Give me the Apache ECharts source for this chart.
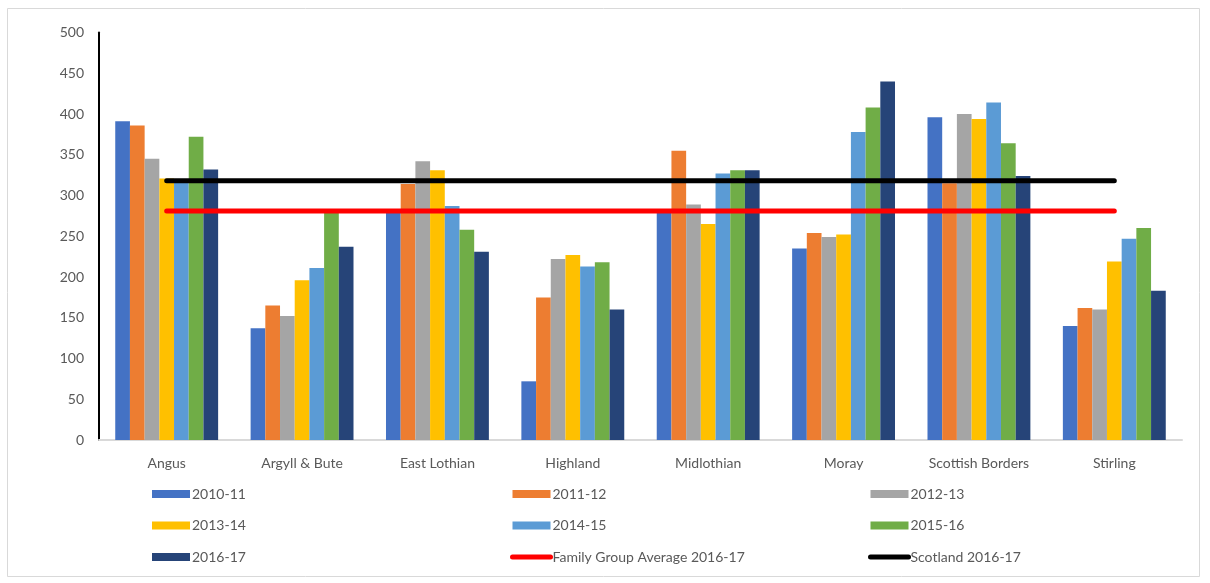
<!DOCTYPE html>
<html>
<head>
<meta charset="utf-8">
<script src="https://cdn.jsdelivr.net/npm/echarts@6/dist/echarts.min.js"></script>
<style>
  html, body { margin: 0; padding: 0; background: #fff; }
  #main { width: 1210px; height: 583px; }
</style>
</head>
<body>
<div id="main"></div>
<script>
var areas = ['Angus', 'Argyll & Bute', 'East Lothian', 'Highland', 'Midlothian', 'Moray', 'Scottish Borders', 'Stirling']
var yTicks = [0, 50, 100, 150, 200, 250, 300, 350, 400, 450, 500]

var y2010 = [391, 137, 281, 72, 282, 235, 396, 140]
var y2011 = [386, 165, 314, 175, 355, 254, 315, 162]
var y2012 = [345, 152, 342, 222, 289, 249, 400, 160]
var y2013 = [321, 196, 331, 227, 265, 252, 394, 219]
var y2014 = [318, 211, 287, 213, 327, 378, 414, 247]
var y2015 = [372, 279, 258, 218, 331, 408, 364, 260]
var y2016 = [332, 237, 231, 160, 331, 440, 324, 183]
var familyAvg = [281, 281, 281, 281, 281, 281, 281, 281]
var scotland = [318, 318, 318, 318, 318, 318, 318, 318]

var barNames = ['2010-11', '2011-12', '2012-13', '2013-14', '2014-15', '2015-16', '2016-17']
var barData = [y2010, y2011, y2012, y2013, y2014, y2015, y2016]
var barColors = ['#4472C4', '#ED7D31', '#A5A5A5', '#FFC000', '#5B9BD5', '#70AD47', '#264478']

var font = 'Lato'
var myChart = echarts.init(document.getElementById('main'))

var series = []
for (var i = 0; i < barNames.length; i++) {
  series.push({
    name: barNames[i],
    type: 'bar',
    data: barData[i],
    barGap: '0%',
    barCategoryGap: '24%',
    itemStyle: { color: barColors[i] }
  })
}
series.push({
  name: 'Family Group Average 2016-17',
  type: 'line',
  data: familyAvg,
  symbol: 'none',
  lineStyle: { color: '#FF0000', width: 5, cap: 'round' },
  itemStyle: { color: '#FF0000' }
})
series.push({
  name: 'Scotland 2016-17',
  type: 'line',
  data: scotland,
  symbol: 'none',
  lineStyle: { color: '#000000', width: 5, cap: 'round' },
  itemStyle: { color: '#000000' }
})

// legend in 3 columns, the line series get a thick round-capped stroke
function legendCol(left, names) {
  return {
    orient: 'vertical',
    left: left,
    top: 486,
    padding: 0,
    itemWidth: 38,
    itemHeight: 8,
    itemGap: 15.5,
    data: names.map(function (n) {
      var isLine = n.indexOf('2016-17') >= 0 && n !== '2016-17'
      if (isLine) {
        return { name: n, lineStyle: { width: 5, cap: 'round' }, itemStyle: { opacity: 0 } }
      }
      return { name: n, icon: 'rect' }
    }),
    textStyle: { fontFamily: font, fontSize: 14, color: '#595959', lineHeight: 16, padding: [0, 0, 0, -3] },
    selectedMode: false
  }
}

option = {
  backgroundColor: '#fff',
  animation: false,
  graphic: [{
    type: 'rect',
    shape: { x: 7.5, y: 8.5, width: 1192, height: 568 },
    style: { fill: 'none', stroke: '#d9d9d9', lineWidth: 1 },
    silent: true
  }],
  grid: { left: 99, right: 28, top: 32.5, bottom: 143 },
  legend: [
    legendCol(152, ['2010-11', '2013-14', '2016-17']),
    legendCol(510, ['2011-12', '2014-15', 'Family Group Average 2016-17']),
    legendCol(868, ['2012-13', '2015-16', 'Scotland 2016-17'])
  ],
  xAxis: {
    type: 'category',
    data: areas,
    axisLine: { lineStyle: { color: '#d9d9d9', width: 2 } },
    axisTick: { show: false },
    axisLabel: { fontFamily: font, fontSize: 14, color: '#595959', margin: 16, interval: 0 }
  },
  yAxis: {
    type: 'value',
    min: yTicks[0],
    max: yTicks[yTicks.length - 1],
    interval: yTicks[1] - yTicks[0],
    axisLine: { show: true, lineStyle: { color: '#000', width: 2 } },
    axisTick: { show: false },
    splitLine: { show: false },
    axisLabel: { fontFamily: font, fontSize: 14, color: '#595959', margin: 15 }
  },
  series: series
}
myChart.setOption(option)
</script>
</body>
</html>
